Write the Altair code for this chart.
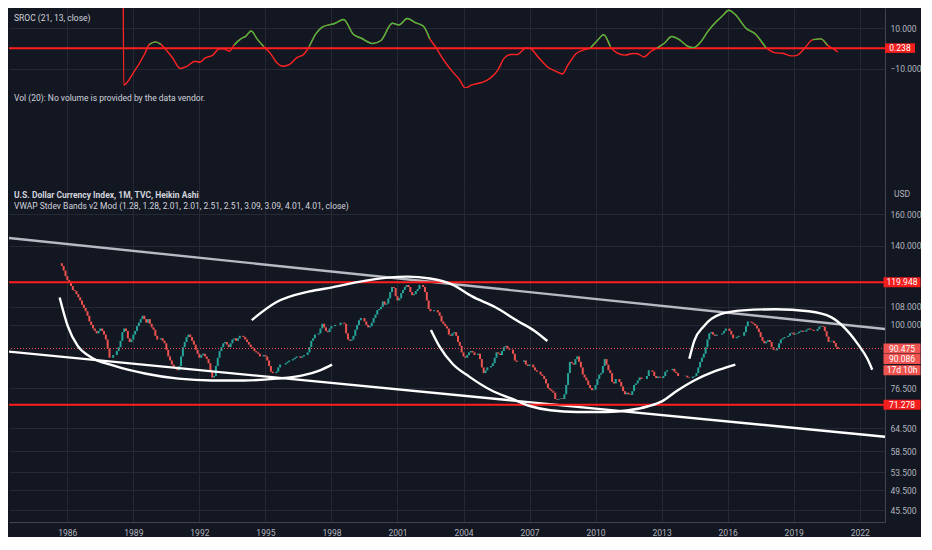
import altair as alt
import pandas as pd

# ---------------- colours / fonts ----------------
BG = "#131722"
GRID = "#252934"
SEP = "#434651"
LBL = "#b2b5be"
TXT = "#d1d4dc"
FONT = "Roboto"
RED_LINE = "#ff1e1e"
UP = "#26a69a"
DOWN = "#ef5350"
SROC_RED = "#ff2323"
SROC_GREEN = "#3fbf3f"

W = 876
H1, H2, H3 = 80, 96, 338

# ---------------- axes ----------------
X_DOMAIN = [1983.35, 2023.15]
YEAR_TICKS = [1986, 1989, 1992, 1995, 1998, 2001, 2004, 2007, 2010, 2013, 2016, 2019, 2022]
PRICE_DOMAIN = [43.3, 182]
PRICE_TICKS = [45.5, 49.5, 53.5, 58.5, 64.5, 76.5, 100, 108, 140, 160]
SROC_DOMAIN = [-19.4, 20]
SROC_TICKS = [10, -10]
SROC_LEVEL = 0.238

# ---------------- Heikin Ashi monthly closes ----------------
FIRST_MONTH_1985 = 10
FIRST_OPEN = 130.0
CLOSES = {
    1985: [128.5, 126, 123],
    1986: [121, 119.5, 118, 116, 115.5, 114, 112.5, 111, 109, 107.5, 106, 104],
    1987: [101.5, 100, 98.5, 97.5, 96.5, 97.5, 98.5, 97.5, 96, 94, 90.5, 87],
    1988: [87, 88, 88, 89.5, 91, 93.5, 97, 98.5, 97.5, 94.5, 93, 94],
    1989: [96, 97.5, 99.5, 101, 102.5, 104, 102.5, 101, 102.5, 100.5, 99, 98],
    1990: [95.5, 94, 94, 94.5, 93.5, 92.5, 90, 87.5, 86, 84.5, 83.5, 83],
    1991: [82.5, 84, 87.5, 91, 93, 95, 96, 95, 93.5, 92, 90, 88.5],
    1992: [87, 88, 88.5, 87.5, 86.5, 85, 82, 80, 80.5, 84, 87, 89.5],
    1993: [91, 92.5, 93, 92, 91, 92.5, 94, 94.5, 93.5, 94.5, 95.5, 95.5],
    1994: [95, 94, 93, 92, 91, 90.5, 89.5, 89, 88.5, 87.5, 87.5, 88],
    1995: [87.5, 86, 84, 82, 81.5, 81.5, 82, 83.5, 84.5, 84.5, 84.5, 85],
    1996: [85.5, 86, 86, 86.5, 87, 87.5, 87.5, 87, 87.5, 88, 88, 89],
    1997: [91, 93.5, 94.5, 96, 96, 96.5, 98.5, 100.5, 99, 97.5, 97, 98.5],
    1998: [99.5, 99.5, 100, 100, 100, 101, 101, 100.5, 96.5, 94, 93.5, 94],
    1999: [95.5, 98, 100, 102, 103, 103, 101.5, 100, 99, 99.5, 101, 103],
    2000: [104.5, 106.5, 107, 108, 110.5, 109, 109.5, 112, 115, 117.5, 117, 113],
    2001: [111, 112, 114.5, 116, 117.5, 118.5, 117.5, 115, 113.5, 114, 115.5, 116.5],
    2002: [118.5, 118.5, 117.5, 115, 111, 107, 106, 106, 106.5, 106.5, 105.5, 104],
    2003: [101.5, 100.5, 99.5, 98.5, 96, 95.5, 96.5, 97, 95.5, 93, 91.5, 89],
    2004: [87.5, 87, 88, 89, 89.5, 89, 88, 88, 88.5, 86.5, 83.5, 81.5],
    2005: [82.5, 83.5, 83.5, 84, 85, 87, 89, 88.5, 88, 89.5, 91, 91.5],
    2006: [90.5, 90, 90, 88.5, 86, 85.5, 85.5, 85.5, 85.5, 86, 84.5, 84],
    2007: [84.5, 84.5, 83.5, 82.5, 82, 82, 81, 80.5, 79.5, 78, 76.5, 76],
    2008: [75.5, 75, 73, 72.8, 73, 73.2, 73, 74.5, 77.5, 81.5, 85.5, 85],
    2009: [84.5, 86.5, 87.5, 85.5, 83.5, 81, 80, 79, 77.5, 76.5, 75.8, 76],
    2010: [77.5, 79.5, 81, 81.5, 84, 86.5, 84.5, 82.5, 81.5, 78.5, 78, 79.5],
    2011: [79.5, 78.5, 77, 75.5, 74.5, 75, 74.5, 74.3, 75.5, 77.5, 78, 79],
    2012: [80, 79.5, 79.5, 79.5, 80.5, 82.5, 82.5, 82, 80.5, 79.8, 80.3, 80],
    2013: [79.8, 80.5, 82, 82.5, 82.5, 82.5, 83, 82, 81.5, 80.5, 80.5, 80.5],
    2014: [80.5, 80.6, 80, 79.8, 79.8, 80.3, 80.5, 81.5, 83.5, 85.5, 87, 88.5],
    2015: [91, 94, 96.5, 97, 96, 95.5, 96, 96, 96, 96.5, 97.5, 98.5],
    2016: [98.5, 97.5, 96, 94.5, 94.5, 95, 95.5, 95.5, 95.5, 97, 99.5, 101.5],
    2017: [101.5, 101, 100.5, 99.8, 98.5, 97, 95, 93.5, 92.5, 93.2, 93.8, 93],
    2018: [91, 90, 89.8, 90.5, 92.5, 94, 94.5, 95, 95, 95.5, 96.5, 96.8],
    2019: [96, 96.3, 96.6, 97.2, 97.6, 97.1, 97.3, 98, 98.5, 98.1, 97.9, 97.5],
    2020: [97.5, 98.3, 99.3, 99.6, 99.3, 97.4, 95.2, 93.1, 93.3, 93.5, 92.6, 91.1],
    2021: [90.3],
}

# ---------------- SROC (21, 13) line ----------------
SROC_T = [1988.53, 1988.56, 1988.99, 1989.5, 1989.73, 1990.0, 1990.25, 1990.54, 1990.77, 1991.13,
          1991.43, 1991.8, 1992.03, 1992.25, 1992.6, 1992.91, 1993.1, 1993.36, 1993.58, 1993.88,
          1994.1, 1994.35, 1994.62, 1994.92, 1995.21, 1995.5, 1995.8, 1996.1, 1996.4, 1996.77,
          1996.99, 1997.28, 1997.58, 1998.17, 1998.55, 1998.99, 1999.36, 1999.88, 2000.25, 2000.77,
          2001.07, 2001.44, 2001.81, 2002.18, 2002.47, 2002.77, 2003.07, 2003.44, 2003.81, 2004.08,
          2004.37, 2004.82, 2005.19, 2005.56, 2005.85, 2006.15, 2006.45, 2006.82, 2007.0, 2007.41,
          2007.85, 2008.22, 2008.49, 2008.74, 2009.11, 2009.48, 2009.78, 2010.08, 2010.37, 2010.67,
          2010.97, 2011.34, 2011.71, 2011.9, 2012.2, 2012.52, 2012.82, 2013.11, 2013.46, 2013.86,
          2014.15, 2014.45, 2014.75, 2015.12, 2015.49, 2015.79, 2016.05, 2016.38, 2016.82, 2017.27,
          2017.74, 2018.18, 2018.5, 2018.9, 2019.15, 2019.5, 2019.87, 2020.24, 2020.53, 2020.76,
          2021.0]
SROC_V = [60, -17.9, -12.1, -2.9, 2.1, 3.3, 2.1, -1.3, -4.4, -9.8,
          -8.7, -6.2, -6.7, -4.7, -3.3, -0.1, -0.1, -1.3, 1.75, 4.8,
          6.0, 8.7, 4.8, 1.0, -2.1, -6.7, -8.7, -7.8, -4.7, -2.5,
          1.0, 7.1, 10.6, 12.5, 14.3, 7.1, 5.1, 2.5, 4.0, 12.5,
          11.7, 14.8, 12.8, 11.0, 4.8, 0.2, -5.2, -10.6, -15.2, -19.4,
          -17.9, -16.7, -14.8, -10.6, -4.7, -2.9, -2.9, 0.2, 0.2, -4.4,
          -9.3, -11.3, -12.5, -8.2, -2.5, -0.6, 0.5, 4.0, 6.8, 1.0,
          -2.1, -3.2, -2.4, -2.5, -4.1, -1.3, 0.5, 2.5, 6.0, 4.0,
          1.4, 0.5, 3.0, 8.7, 13.3, 16.4, 18.9, 16.4, 10.2, 7.1,
          0.5, -2.1, -2.3, -3.6, -3.3, 0.2, 4.4, 4.8, 1.7, 0.2,
          -1.6]

# ---------------- drawings ----------------
LEVELS = [119.948, 71.278]
LAST_PRICE = 90.475
GRAY_TREND_T = [1983.35, 2023.15]
GRAY_TREND_V = [144.7, 98.3]
WHITE_TREND_T = [1983.35, 2023.15]
WHITE_TREND_V = [89.3, 62.2]
CURVE_A_T = [1985.65, 1986.02, 1986.47, 1987.04, 1988.11, 1989.58, 1991.05, 1992.56, 1994.03, 1995.49, 1996.69, 1997.45, 1998.03]
CURVE_A_V = [112.4, 99.5, 91.5, 87.4, 84.1, 81.3, 79.6, 79.0, 79.0, 79.6, 80.7, 82.4, 84.5]
CURVE_B_T = [1994.38, 1995.49, 1997.0, 1998.03, 1999.05, 2000.56, 2001.45, 2002.47, 2003.50, 2004.39, 2005.45, 2006.48, 2007.23, 2007.81]
CURVE_B_V = [102.1, 110.1, 115.3, 117.3, 119.7, 122.3, 122.8, 121.8, 118.7, 112.9, 107.8, 101.6, 97.5, 93.4]
CURVE_C_T = [2002.52, 2002.92, 2003.50, 2004.26, 2005.28, 2006.16, 2007.05, 2007.94, 2009.14, 2010.48, 2011.50, 2012.39, 2013.01, 2013.72, 2014.48, 2015.37, 2016.35]
CURVE_C_V = [97.9, 91.1, 84.8, 80.3, 75.7, 73.2, 70.8, 69.6, 69.1, 69.1, 69.6, 70.8, 72.3, 75.7, 79.0, 82.0, 84.5]
CURVE_D_T = [2014.26, 2014.48, 2014.92, 2015.68, 2016.70, 2018.17, 2019.68, 2020.70, 2021.28, 2021.91, 2022.35, 2022.57]
CURVE_D_V = [86.6, 93.4, 99.5, 104.7, 106.4, 106.9, 106.0, 103.4, 99.1, 92.3, 86.6, 82.7]

# price-scale labels (text, anchor value on the scale, box colour)
PRICE_LABELS = ["119.948", "90.475", "90.086", "17d 10h", "71.278"]
PRICE_LABEL_AT = [119.948, 90.475, 86.5, 82.5, 71.278]
PRICE_LABEL_FILL = ["#f21d1d", "#ef5350", "#ef5350", "#ef5350", "#f21d1d"]

# ---------------- tables ----------------
rows = []
prev = FIRST_OPEN
for year in sorted(CLOSES):
    first_m = FIRST_MONTH_1985 if year == 1985 else 1
    for i, c in enumerate(CLOSES[year]):
        m = first_m + i
        rows.append({"t": year + (m - 1) / 12, "o": prev, "c": c, "dir": "up" if c >= prev else "down"})
        prev = c
candles_df = pd.DataFrame(rows)

sroc_df = pd.DataFrame({"t": SROC_T, "v": SROC_V})
seg, cur = [], 0
inside = False
for v in SROC_V:
    if v >= SROC_LEVEL:
        if not inside:
            cur += 1
            inside = True
        seg.append(cur)
    else:
        inside = False
        seg.append(0)
sroc_df["seg"] = seg
green_df = sroc_df[sroc_df["seg"] > 0]

gray_df = pd.DataFrame({"t": GRAY_TREND_T, "v": GRAY_TREND_V})
white_df = pd.DataFrame({"t": WHITE_TREND_T, "v": WHITE_TREND_V})
curves_df = pd.concat([
    pd.DataFrame({"t": CURVE_A_T, "v": CURVE_A_V, "id": "a"}),
    pd.DataFrame({"t": CURVE_B_T, "v": CURVE_B_V, "id": "b"}),
    pd.DataFrame({"t": CURVE_C_T, "v": CURVE_C_V, "id": "c"}),
    pd.DataFrame({"t": CURVE_D_T, "v": CURVE_D_V, "id": "d"}),
])
levels_df = pd.DataFrame({"v": LEVELS})
last_df = pd.DataFrame({"v": [LAST_PRICE]})
labels_df = pd.DataFrame({"v": PRICE_LABEL_AT, "label": PRICE_LABELS, "fill": PRICE_LABEL_FILL})
ticks_df = pd.DataFrame({"t": YEAR_TICKS, "v": [0.5] * len(YEAR_TICKS)})

# ---------------- encodings ----------------
xs = alt.Scale(domain=X_DOMAIN, nice=False, zero=False)
x_axis_plain = alt.Axis(values=YEAR_TICKS, title=None, ticks=False, labels=False, domain=True,
                        domainColor=SEP, grid=True, gridColor=GRID, minExtent=0, maxExtent=0)
x_axis_main = alt.Axis(values=YEAR_TICKS, format="d", title=None, ticks=False, domain=True,
                       domainColor=SEP, grid=True, gridColor=GRID, labelColor=LBL, labelFont=FONT,
                       labelFontSize=8.5, labelPadding=6, labelFlush=False)

def X(main=False):
    return alt.X("t:Q", scale=xs, axis=x_axis_main if main else x_axis_plain)

ps = alt.Scale(type="log", domain=PRICE_DOMAIN, nice=False)
p_axis = alt.Axis(orient="right", values=PRICE_TICKS, format=".3f", title=None, ticks=False,
                  domain=True, domainColor=SEP, grid=True, gridColor=GRID, labelColor=LBL,
                  labelFont=FONT, labelFontSize=8.5, labelPadding=5)

def PY(field):
    return alt.Y(f"{field}:Q", scale=ps, axis=p_axis)

ss = alt.Scale(domain=SROC_DOMAIN, nice=False, zero=False)
s_axis = alt.Axis(orient="right", values=SROC_TICKS, format=".3f", title=None, ticks=False,
                  domain=True, domainColor=SEP, grid=True, gridColor=GRID, labelColor=LBL,
                  labelFont=FONT, labelFontSize=8.5, labelPadding=5)

def SY(field):
    return alt.Y(f"{field}:Q", scale=ss, axis=s_axis)

BOX_X = W + 17
BOX_SHAPE = "M-1,-0.27H1V0.27H-1Z"


def title_layer(text, y, bold=False):
    return alt.Chart(pd.DataFrame({"s": [text]})).mark_text(
        align="left", baseline="middle", color=TXT, font=FONT, fontSize=8.5,
        fontWeight="bold" if bold else "normal"
    ).encode(x=alt.value(5), y=alt.value(y), text="s:N")

# ---------------- SROC panel ----------------
s_level = alt.Chart(pd.DataFrame({"v": [SROC_LEVEL]})).mark_rule(color=RED_LINE, strokeWidth=2).encode(y=SY("v"))
s_red = alt.Chart(sroc_df).mark_line(color=SROC_RED, strokeWidth=1.4, interpolate="monotone", clip=True).encode(
    x=X(), y=SY("v"))
s_green = alt.Chart(green_df).mark_line(color=SROC_GREEN, strokeWidth=1.4, interpolate="monotone", clip=True).encode(
    x=X(), y=SY("v"), detail="seg:N")
s_box = alt.Chart(pd.DataFrame({"v": [SROC_LEVEL], "label": ["0.238"]})).mark_point(
    shape="M-1,-0.32H1V0.32H-1Z", size=900, filled=True, opacity=1, color="#f21d1d", strokeWidth=0
).encode(x=alt.value(W + 15), y=SY("v"))
s_txt = alt.Chart(pd.DataFrame({"v": [SROC_LEVEL], "label": ["0.238"]})).mark_text(
    color="white", font=FONT, fontSize=8.5, align="center", baseline="middle"
).encode(x=alt.value(W + 15), y=SY("v"), text="label:N")
sroc = alt.layer(s_level, s_red, s_green, s_box, s_txt,
                 title_layer("SROC (21, 13, close)", 10)).properties(width=W, height=H1)

# ---------------- Volume panel ----------------
v_dummy = alt.Chart(ticks_df).mark_point(opacity=0).encode(
    x=X(),
    y=alt.Y("v:Q", scale=alt.Scale(domain=[0, 1]),
            axis=alt.Axis(orient="right", labels=False, ticks=False, grid=False, domain=True,
                          domainColor=SEP, title=None)))
vol = alt.layer(v_dummy, title_layer("Vol (20): No volume is provided by the data vendor.", 10)).properties(
    width=W, height=H2)

# ---------------- Main panel ----------------
m_candles = alt.Chart(candles_df).mark_rule(strokeWidth=2).encode(
    x=X(True), y=PY("o"), y2="c:Q",
    color=alt.Color("dir:N", scale=alt.Scale(domain=["up", "down"], range=[UP, DOWN]), legend=None))
m_gray = alt.Chart(gray_df).mark_line(strokeWidth=2.4, clip=True, color="#b8bac2").encode(x=X(True), y=PY("v"))
m_white = alt.Chart(white_df).mark_line(strokeWidth=2.4, clip=True, color="#ffffff").encode(x=X(True), y=PY("v"))
m_levels = alt.Chart(levels_df).mark_rule(color=RED_LINE, strokeWidth=2).encode(y=PY("v"))
m_last = alt.Chart(last_df).mark_rule(color=DOWN, strokeWidth=1, strokeDash=[1, 2]).encode(y=PY("v"))
m_curves = alt.Chart(curves_df).mark_line(color="white", strokeWidth=2.4, interpolate="monotone", clip=True).encode(
    x=X(True), y=PY("v"), detail="id:N")
m_boxes = alt.Chart(labels_df).mark_point(shape=BOX_SHAPE, size=37 * 37, filled=True, opacity=1, strokeWidth=0).encode(
    x=alt.value(BOX_X), y=PY("v"), fill=alt.Fill("fill:N", scale=None))
m_box_txt = alt.Chart(labels_df).mark_text(color="white", font=FONT, fontSize=8.5, align="center",
                                           baseline="middle").encode(
    x=alt.value(BOX_X), y=PY("v"), text="label:N")
m_usd = alt.Chart(pd.DataFrame({"s": ["USD"]})).mark_text(
    color=LBL, font=FONT, fontSize=8.5, align="center", baseline="middle"
).encode(x=alt.value(BOX_X), y=alt.value(10), text="s:N")

main = alt.layer(
    m_candles, m_gray, m_white, m_levels, m_last, m_curves, m_boxes, m_box_txt, m_usd,
    title_layer("U.S. Dollar Currency Index, 1M, TVC, Heikin Ashi", 11, bold=True),
    title_layer("VWAP Stdev Bands v2 Mod (1.28, 1.28, 2.01, 2.01, 2.51, 2.51, 3.09, 3.09, 4.01, 4.01, close)", 22),
).properties(width=W, height=H3)

chart = alt.VConcatChart(vconcat=[sroc, vol, main], spacing=0, padding=0, background=BG).configure_view(
    stroke=None, fill=BG)

chart.save("out.html", embed_options={"renderer": "svg", "actions": False})
